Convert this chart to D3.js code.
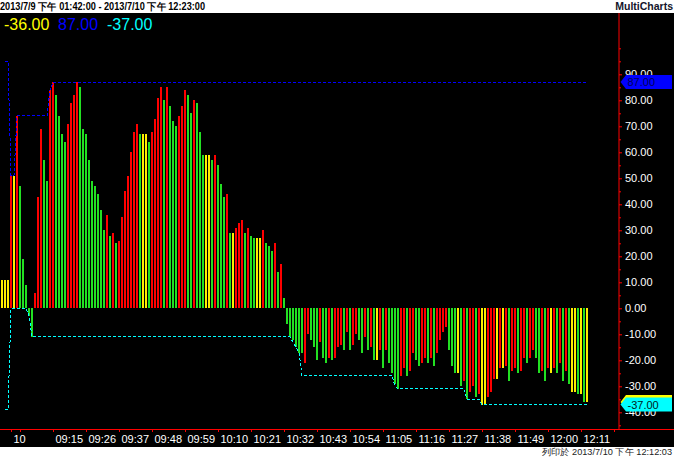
<!DOCTYPE html>
<html>
<head>
<meta charset="utf-8">
<script src="https://cdn.jsdelivr.net/npm/d3@7"></script>
<style>
  html, body { margin: 0; padding: 0; background: #fff; }
  svg { display: block; }
  text { font-family: "Liberation Sans", Arial, sans-serif; }
</style>
</head>
<body>
<div id="chart"></div>
<script>
// ---------------- DATA ----------------
const headerRange = "2013/7/9 下午 01:42:00 - 2013/7/10 下午 12:23:00";
const brandText = "MultiCharts";
const footerText = "列印於 2013/7/10 下午 12:12:03";

// indicator value per 1-minute bar
const values = [
  11, 11, 11, 51, 51, 74, 47, 19, 9, -3,
  -11, 6, 43, 69, 57, 49, 84, 87, 82, 74,
  67, 64, 71, 79, 82, 87, 85, 69, 67, 57,
  49, 47, 44, 38, 30, 36, 28, 29, 25, 26,
  35, 45, 51, 60, 68, 71, 67, 67, 67, 64,
  68, 73, 81, 85, 80, 85, 78, 72, 70, 74,
  78, 84, 82, 75, 80, 79, 68, 59, 59, 59,
  57, 59, 55, 48, 43, 44, 29, 29, 31, 33,
  34, 29, 31, 28, 27, 27, 27, 30, 25, 24,
  22, 25, 14, 17, 4, -6, -11, -12, -15, -17,
  -17, -21, -10, -12, -15, -20, -13, -19, -21, -19,
  -20, -19, -15, -14, -16, -9, -16, -14, -10, -12,
  -17, -11, -16, -15, -20, -20, -16, -23, -16, -21,
  -25, -29, -31, -26, -23, -26, -24, -17, -20, -22,
  -21, -19, -21, -19, -22, -17, -12, -9, -7, -16,
  -22, -25, -25, -30, -28, -35, -32, -30, -34, -33,
  -37, -37, -34, -32, -27, -27, -23, -23, -22, -28,
  -24, -23, -25, -24, -19, -21, -19, -16, -19, -25,
  -24, -28, -23, -25, -23, -25, -21, -28, -24, -29,
  -32, -32, -33, -33, -36, -36
];

// bar colour key per bar: r = up, g = down, y = unchanged
const barKeys = (
  "yyyryrgggg" + "grrrggrrgg" + "ggrrrrgggg" + "gggggrgrgr" + "rrrrrrgyyg" +
  "rrrrgrgggr" + "rrggrgggyy" + "grgggrgyrr" + "rgrggyyrgg" + "grgrgggggg" +
  "grrgggrggr" + "grrrgrgrrg" + "grgrgyrgrg" + "gggrrgrrgg" + "rrgrgrrrrg" +
  "ggygrgrrgr" + "yyrrryryrg" + "rrgrrgrrgg" + "rgryrgrgrg" + "yygygy"
).split("");

// highest line (blue dashed), per bar
const highLine = [
  null, 95, 95, 51, 51, 74, 74, 74, 74, 74,
  74, 74, 74, 74, 74, 74, 84, 87, 87, 87,
  87, 87, 87, 87, 87, 87, 87, 87, 87, 87,
  87, 87, 87, 87, 87, 87, 87, 87, 87, 87,
  87, 87, 87, 87, 87, 87, 87, 87, 87, 87,
  87, 87, 87, 87, 87, 87, 87, 87, 87, 87,
  87, 87, 87, 87, 87, 87, 87, 87, 87, 87,
  87, 87, 87, 87, 87, 87, 87, 87, 87, 87,
  87, 87, 87, 87, 87, 87, 87, 87, 87, 87,
  87, 87, 87, 87, 87, 87, 87, 87, 87, 87,
  87, 87, 87, 87, 87, 87, 87, 87, 87, 87,
  87, 87, 87, 87, 87, 87, 87, 87, 87, 87,
  87, 87, 87, 87, 87, 87, 87, 87, 87, 87,
  87, 87, 87, 87, 87, 87, 87, 87, 87, 87,
  87, 87, 87, 87, 87, 87, 87, 87, 87, 87,
  87, 87, 87, 87, 87, 87, 87, 87, 87, 87,
  87, 87, 87, 87, 87, 87, 87, 87, 87, 87,
  87, 87, 87, 87, 87, 87, 87, 87, 87, 87,
  87, 87, 87, 87, 87, 87, 87, 87, 87, 87,
  87, 87, 87, 87, 87, 87
];

// lowest line (cyan dashed), per bar
const lowLine = [
  null, -39, -39, 0, 0, 0, 0, 0, 0, -3,
  -11, -11, -11, -11, -11, -11, -11, -11, -11, -11,
  -11, -11, -11, -11, -11, -11, -11, -11, -11, -11,
  -11, -11, -11, -11, -11, -11, -11, -11, -11, -11,
  -11, -11, -11, -11, -11, -11, -11, -11, -11, -11,
  -11, -11, -11, -11, -11, -11, -11, -11, -11, -11,
  -11, -11, -11, -11, -11, -11, -11, -11, -11, -11,
  -11, -11, -11, -11, -11, -11, -11, -11, -11, -11,
  -11, -11, -11, -11, -11, -11, -11, -11, -11, -11,
  -11, -11, -11, -11, -11, -11, -11, -13, -15, -17,
  -26, -26, -26, -26, -26, -26, -26, -26, -26, -26,
  -26, -26, -26, -26, -26, -26, -26, -26, -26, -26,
  -26, -26, -26, -26, -26, -26, -26, -26, -26, -26,
  -26, -30, -31, -31, -31, -31, -31, -31, -31, -31,
  -31, -31, -31, -31, -31, -31, -31, -31, -31, -31,
  -31, -31, -31, -31, -31, -35, -35, -35, -35, -35,
  -37, -37, -37, -37, -37, -37, -37, -37, -37, -37,
  -37, -37, -37, -37, -37, -37, -37, -37, -37, -37,
  -37, -37, -37, -37, -37, -37, -37, -37, -37, -37,
  -37, -37, -37, -37, -37, -37
];

// time axis ticks (bar index) and labels
const timeTickIndex = [3, 6, 17, 28, 39, 50, 61, 72, 83, 94, 105, 116, 127, 138, 149, 160, 171, 182, 193, 204];
const timeTickLabels = ["10", "", "09:15", "09:26", "09:37", "09:48", "09:59", "10:10", "10:21", "10:32",
  "10:43", "10:54", "11:05", "11:16", "11:27", "11:38", "11:49", "12:00", "12:11", ""];

// value axis ticks
const valueTicks = [-40, -30, -20, -10, 0, 10, 20, 30, 40, 50, 60, 70, 80, 90];
const valueMinorTicks = [-45, -35, -25, -15, -5, 5, 15, 25, 35, 45, 55, 65, 75, 85, 95, 100];

// ---------------- CHART ----------------
const W = 674, H = 457;
const colors = { r: "#ff0000", g: "#22e022", y: "#ffee00" };
const axisRed = "#ff0000";

const svg = d3.select("#chart").append("svg").attr("width", W).attr("height", H);

svg.append("rect").attr("x", 0).attr("y", 0).attr("width", W).attr("height", H).attr("fill", "#fff");
svg.append("rect").attr("x", 0).attr("y", 13).attr("width", W).attr("height", 434).attr("fill", "#000");

const x = d3.scaleLinear().domain([0, values.length - 1]).range([2, 2 + 3 * (values.length - 1)]);
const y = d3.scaleLinear().domain([-40, 90]).range([412.3, 74.3]);

// header
svg.append("text").attr("x", 0).attr("y", 10).attr("font-size", 10).attr("font-weight", "bold")
  .attr("textLength", 205).attr("lengthAdjust", "spacingAndGlyphs")
  .attr("fill", "#000").text(headerRange);
svg.append("text").attr("x", 673).attr("y", 10).attr("font-size", 10.5).attr("font-weight", "bold")
  .attr("text-anchor", "end").attr("fill", "#14142a").text(brandText);

// footer
svg.append("text").attr("x", 672).attr("y", 455).attr("font-size", 9)
  .attr("text-anchor", "end").attr("textLength", 130).attr("lengthAdjust", "spacingAndGlyphs")
  .attr("fill", "#222").text(footerText);

// bars
svg.append("g").attr("shape-rendering", "crispEdges")
  .selectAll("rect").data(values).join("rect")
  .attr("x", (d, i) => x(i) - 1)
  .attr("width", 2)
  .attr("y", d => y(Math.max(d, 0)))
  .attr("height", d => Math.abs(y(d) - y(0)))
  .attr("fill", (d, i) => colors[barKeys[i]]);

// dashed high / low lines
const line = d3.line().defined(d => d != null).x((d, i) => x(i)).y(d => y(d));
svg.append("path").datum(highLine).attr("d", line).attr("fill", "none")
  .attr("stroke", "#0000ff").attr("stroke-width", 1).attr("stroke-dasharray", "3,2")
  .attr("shape-rendering", "crispEdges");
svg.append("path").datum(lowLine).attr("d", line).attr("fill", "none")
  .attr("stroke", "#00ffff").attr("stroke-width", 1).attr("stroke-dasharray", "3,2")
  .attr("shape-rendering", "crispEdges");

// header values
const lastVal = values[values.length - 1];
const lastHigh = highLine[highLine.length - 1];
const lastLow = lowLine[lowLine.length - 1];
const headVals = [
  { v: lastVal, c: "#ffff00", x: 4 },
  { v: lastHigh, c: "#0000ff", x: 58 },
  { v: lastLow, c: "#00ffff", x: 107 }
];
svg.selectAll("text.hv").data(headVals).join("text").attr("class", "hv")
  .attr("x", d => d.x).attr("y", 30).attr("font-size", 16).attr("fill", d => d.c)
  .text(d => d.v.toFixed(2));

// bottom time axis
svg.append("line").attr("x1", 0).attr("x2", W).attr("y1", 429.5).attr("y2", 429.5)
  .attr("stroke", axisRed).attr("stroke-width", 1);
const xAxis = d3.axisBottom(x).tickValues(timeTickIndex).tickSize(3)
  .tickFormat((d, i) => timeTickLabels[i]);
const gx = svg.append("g").attr("transform", "translate(0,429)").call(xAxis);
gx.select(".domain").remove();
gx.selectAll(".tick line").attr("stroke", axisRed);
gx.selectAll(".tick text").attr("fill", "#fff").attr("font-size", 11)
  .attr("font-family", "'Liberation Sans', Arial, sans-serif")
  .attr("text-anchor", "start").attr("x", 2).attr("y", 14.3).attr("dy", 0);

// right value axis
svg.append("line").attr("x1", 619).attr("x2", 619).attr("y1", 13).attr("y2", 430)
  .attr("stroke", axisRed).attr("stroke-width", 1);
const yAxis = d3.axisRight(y).tickValues(valueTicks).tickSize(3).tickPadding(3)
  .tickFormat(d => d.toFixed(2));
const gy = svg.append("g").attr("transform", "translate(619,0)").call(yAxis);
gy.select(".domain").remove();
gy.selectAll(".tick line").attr("stroke", axisRed);
gy.selectAll(".tick text").attr("fill", "#fff").attr("font-size", 11)
  .attr("font-family", "'Liberation Sans', Arial, sans-serif");
const yMinor = d3.axisRight(y).tickValues(valueMinorTicks).tickSize(2).tickFormat("");
const gym = svg.append("g").attr("transform", "translate(619,0)").call(yMinor);
gym.select(".domain").remove();
gym.selectAll(".tick line").attr("stroke", axisRed);

// value tags on right axis (the last-value tag sits behind the low tag, its text hidden)
const tags = [
  { v: lastVal, fill: "#ffff00", text: null },
  { v: lastHigh, fill: "#0000ff", text: "#00005a" },
  { v: lastLow, fill: "#00ffff", text: "#002020" }
];
tags.forEach(t => {
  const yc = y(t.v);
  const h = 7;
  svg.append("path")
    .attr("d", `M620.5,${yc} L626,${yc - h} L672,${yc - h} L672,${yc + h} L626,${yc + h} Z`)
    .attr("fill", t.fill);
  if (t.text) {
    svg.append("text").attr("x", 627.5).attr("y", yc + 4).attr("font-size", 11)
      .attr("fill", t.text).text(t.v.toFixed(2));
  }
});
</script>
</body>
</html>
